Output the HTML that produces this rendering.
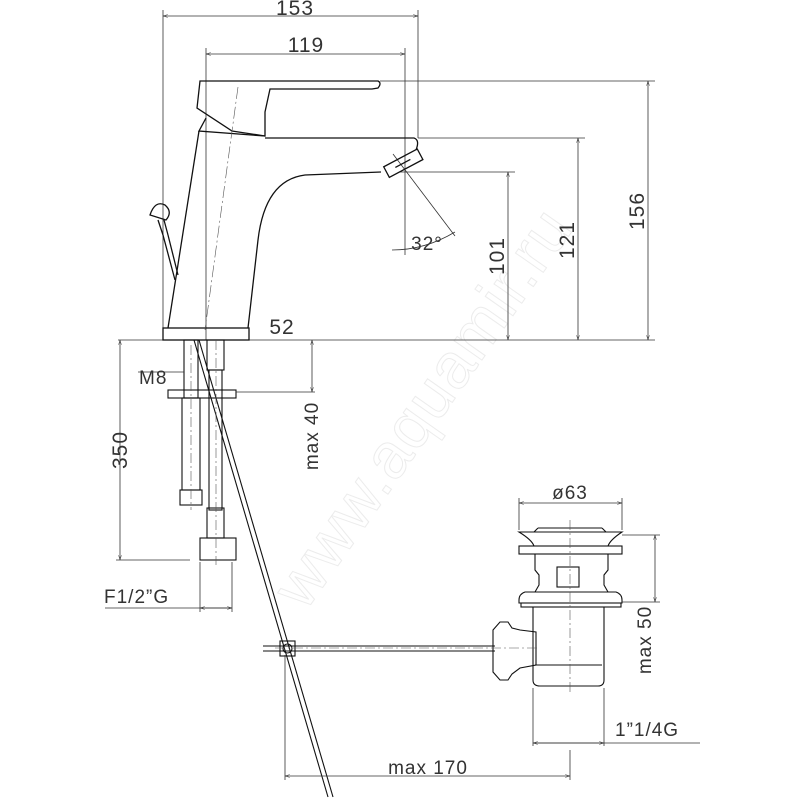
<!DOCTYPE html>
<html><head><meta charset="utf-8"><style>
html,body{margin:0;padding:0;background:#fff;width:800px;height:800px;overflow:hidden}
svg{display:block}
text{font-family:"Liberation Sans",sans-serif;fill:#333;letter-spacing:1px}
</style></head><body>
<svg width="800" height="800" viewBox="0 0 800 800" xmlns="http://www.w3.org/2000/svg">
<defs>
<marker id="a" viewBox="0 0 10 10" refX="10" refY="5" markerWidth="6" markerHeight="6" orient="auto-start-reverse"><path d="M0,2L10,5L0,8" fill="none" stroke="#333" stroke-width="1"/></marker>
</defs>
<text x="0" y="0" transform="translate(440,420) rotate(-55)" font-size="64" stroke="#ececec" stroke-width="1" text-anchor="middle" style="fill:none">www.aquamir.ru</text>

<g stroke="#333" stroke-width="0.8" fill="none">
<line x1="163" y1="16" x2="418" y2="16" marker-start="url(#a)" marker-end="url(#a)"/>
<line x1="163" y1="10" x2="163" y2="330"/>
<line x1="418" y1="10" x2="418" y2="138"/>
<line x1="206" y1="54" x2="405" y2="54" marker-start="url(#a)" marker-end="url(#a)"/>
<line x1="206" y1="48" x2="206" y2="340"/>
<line x1="405" y1="48" x2="405" y2="255"/>
<line x1="380" y1="81" x2="655" y2="81"/>
<line x1="418" y1="138" x2="585" y2="138"/>
<line x1="400" y1="172" x2="515" y2="172"/>
<line x1="118" y1="340" x2="655" y2="340"/>
<line x1="648" y1="81" x2="648" y2="340" marker-start="url(#a)" marker-end="url(#a)"/>
<line x1="578" y1="138" x2="578" y2="340" marker-start="url(#a)" marker-end="url(#a)"/>
<line x1="508" y1="172" x2="508" y2="340" marker-start="url(#a)" marker-end="url(#a)"/>
<line x1="393" y1="154" x2="455" y2="236"/>
<path d="M392,250 Q425,250 455,232"/>
</g>

<g stroke="#111" stroke-width="1.3" fill="none">
<path d="M200,81 L378,81 Q382,83 378,88 L372,89 L270,89 L265,112 L265,136 L232,131 L197,108 Z"/>
<path d="M206,118 L199,131 L265,136"/>
<path d="M199,131 L168,328"/>
<path d="M265,138 L414,138 Q420,140 416,150"/>
<path d="M381,172 L305,175 Q265,180 258,240 L248,328"/>
<rect x="163" y="328" width="86" height="12"/>
<g transform="rotate(-28 402 165)"><rect x="385" y="158" width="38" height="12"/><line x1="395" y1="164" x2="412" y2="164"/></g>
<path d="M150,215 Q155,200 165,205 Q173,212 166,220 Z"/>
<path d="M158,220 L163,235 M164,220 L168,235"/>
<path d="M163,235 L175,280 M168,235 L178,275"/>
</g>
<g stroke="#555" stroke-width="0.6" fill="none">
<line x1="238" y1="87" x2="205" y2="330" stroke-dasharray="12 3 2 3"/>
</g>

<g stroke="#111" stroke-width="1.1" fill="none">
<rect x="184" y="340" width="14" height="58"/>
<rect x="168" y="390" width="68" height="8"/>
<rect x="182" y="398" width="18" height="92"/>
<rect x="180" y="490" width="22" height="15"/>
<rect x="207" y="340" width="17" height="30"/>
<rect x="209" y="370" width="13" height="140"/>
<rect x="207" y="508" width="17" height="30"/>
<rect x="200" y="538" width="36" height="22"/>
<line x1="194" y1="340" x2="328" y2="797"/>
<line x1="199" y1="340" x2="333" y2="797"/>
<line x1="263" y1="646" x2="495" y2="646"/>
<line x1="263" y1="651" x2="495" y2="651"/>
<rect x="280" y="641" width="15" height="15"/>
<circle cx="287.5" cy="648.5" r="4.5"/>
<path d="M493,630 L500,622 L508,622 L512,628 L520,630 L536,632 L536,665 L520,668 L512,674 L508,680 L500,680 L493,672 Z"/>
<path d="M519,532 L622,532 Q610,540 608,546 L534,546 Q532,540 519,532 Z"/>
<line x1="538" y1="528" x2="602" y2="528"/>
<path d="M538,528 L534,532 M602,528 L606,532"/>
<rect x="519" y="546" width="103" height="8"/>
<path d="M535,554 L535,570 L539,575 L539,585 L535,592 M608,554 L608,570 L604,575 L604,585 L608,592"/>
<rect x="557" y="567" width="22" height="20"/>
<path d="M525,592 L616,592 Q622,594 622,600 L622,603 L519,603 L519,600 Q519,594 525,592 Z"/>
<rect x="521" y="603" width="100" height="4"/>
<path d="M533,607 L533,680 Q533,686 540,686 L598,686 Q604,686 604,680 L604,607"/>
<line x1="535" y1="665" x2="602" y2="665"/>
</g>
<g stroke="#555" stroke-width="0.6" fill="none" stroke-dasharray="10 3 2 3">
<line x1="191" y1="345" x2="191" y2="510"/>
<line x1="216" y1="340" x2="216" y2="565"/>
<line x1="570" y1="520" x2="570" y2="695"/>
<line x1="275" y1="648" x2="540" y2="648"/>
</g>
<g stroke="#333" stroke-width="0.8" fill="none">
<line x1="120" y1="340" x2="120" y2="560" marker-start="url(#a)" marker-end="url(#a)"/>
<line x1="116" y1="560" x2="190" y2="560"/>
<line x1="138" y1="372" x2="184" y2="372"/>
<line x1="236" y1="392" x2="315" y2="392"/>
<line x1="312" y1="340" x2="312" y2="392" marker-start="url(#a)" marker-end="url(#a)"/>
<line x1="200" y1="562" x2="200" y2="612"/>
<line x1="232" y1="562" x2="232" y2="612"/>
<line x1="105" y1="608" x2="232" y2="608"/>
<line x1="200" y1="608" x2="232" y2="608" marker-start="url(#a)" marker-end="url(#a)"/>
<line x1="519" y1="503" x2="622" y2="503" marker-start="url(#a)" marker-end="url(#a)"/>
<line x1="519" y1="498" x2="519" y2="530"/>
<line x1="622" y1="498" x2="622" y2="530"/>
<line x1="622" y1="535" x2="660" y2="535"/>
<line x1="622" y1="602" x2="660" y2="602"/>
<line x1="655" y1="535" x2="655" y2="602" marker-start="url(#a)" marker-end="url(#a)"/>
<line x1="533" y1="688" x2="533" y2="746"/>
<line x1="604" y1="688" x2="604" y2="746"/>
<line x1="533" y1="743" x2="700" y2="743"/>
<line x1="533" y1="743" x2="604" y2="743" marker-start="url(#a)" marker-end="url(#a)"/>
<line x1="285" y1="655" x2="285" y2="780"/>
<line x1="570" y1="750" x2="570" y2="780"/>
<line x1="285" y1="776" x2="570" y2="776" marker-start="url(#a)" marker-end="url(#a)"/>
</g>

<g font-size="21">
<text x="295" y="15" text-anchor="middle">153</text>
<text x="306" y="52" text-anchor="middle">119</text>
<text x="282" y="334" text-anchor="middle">52</text>
<text x="427" y="250" text-anchor="middle" font-size="19">32°</text>
<text transform="translate(644,211) rotate(-90)" text-anchor="middle">156</text>
<text transform="translate(574,240) rotate(-90)" text-anchor="middle">121</text>
<text transform="translate(504,256) rotate(-90)" text-anchor="middle">101</text>
<text x="139" y="384" font-size="19">M8</text>
<text transform="translate(127,450) rotate(-90)" text-anchor="middle">350</text>
<text transform="translate(318,436) rotate(-90)" text-anchor="middle" font-size="19">max  40</text>
<text x="104" y="603" font-size="19">F1/2”G</text>
<text x="570" y="499" text-anchor="middle" font-size="19">ø63</text>
<text transform="translate(651,640) rotate(-90)" text-anchor="middle" font-size="19">max  50</text>
<text x="615" y="736" font-size="19">1”1/4G</text>
<text x="428" y="774" text-anchor="middle" font-size="19">max  170</text>
</g>
</svg>
</body></html>
